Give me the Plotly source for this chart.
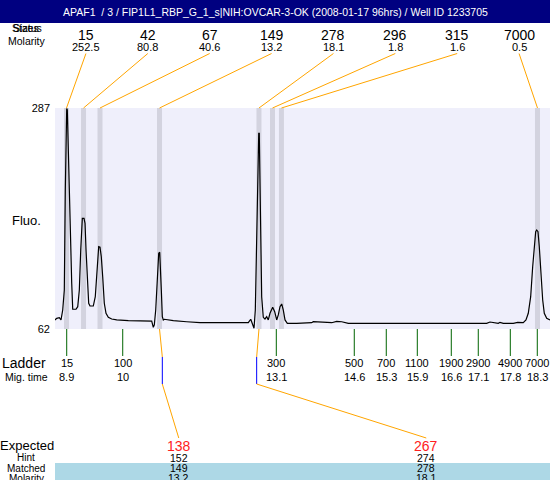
import plotly.graph_objects as go

TITLE = "APAF1  / 3 / FIP1L1_RBP_G_1_s|NIH:OVCAR-3-OK (2008-01-17 96hrs) / Well ID 1233705"

# electropherogram: migration time (s) vs fluorescence
mig_time = [8.666, 8.700, 8.752, 8.786, 8.820, 8.852, 8.872, 8.886, 8.900, 8.912,
            8.932, 8.952, 8.980, 9.000, 9.020, 9.046, 9.086, 9.120, 9.152, 9.180,
            9.212, 9.246, 9.266, 9.286, 9.312, 9.339, 9.365, 9.431, 9.471, 9.505,
            9.539, 9.565, 9.591, 9.619, 9.651, 9.685, 9.731, 9.799, 9.899, 10.131,
            10.364, 10.598, 10.630, 10.650, 10.678, 10.710, 10.738, 10.758, 10.770, 10.790,
            10.810, 10.830, 10.850, 10.930, 11.030, 11.297, 11.563, 11.896, 12.228, 12.528,
            12.576, 12.608, 12.642, 12.668, 12.696, 12.716, 12.736, 12.747, 12.761, 12.775,
            12.795, 12.827, 12.861, 12.895, 12.927, 12.961, 13.015, 13.055, 13.095, 13.127,
            13.161, 13.195, 13.227, 13.261, 13.307, 13.495, 13.794, 13.826, 14.060, 14.194,
            14.294, 14.394, 14.526, 15.558, 16.557, 17.290, 17.356, 17.422, 17.522, 17.556,
            17.622, 17.822, 17.909, 18.021, 18.075, 18.121, 18.169, 18.209, 18.241, 18.269,
            18.289, 18.315, 18.341, 18.375, 18.409, 18.441, 18.489, 18.555]
fluo = [71.2, 72.9, 73.5, 71.2, 81.3, 101.7, 203.5, 285.0, 286.5, 285.0,
        237.4, 196.7, 145.8, 108.5, 82.1, 82.1, 82.1, 84.7, 101.7, 142.4,
        174.7, 174.7, 169.6, 142.4, 108.5, 88.2, 85.4, 85.4, 94.9, 122.1,
        145.8, 145.2, 135.6, 115.2, 88.2, 78.0, 73.9, 72.2, 71.2, 70.5,
        70.1, 70.1, 63.7, 66.1, 81.3, 108.5, 139.1, 140.1, 128.9, 101.7,
        74.5, 71.2, 71.9, 71.2, 70.5, 69.4, 68.4, 68.4, 68.4, 68.4,
        71.9, 67.8, 62.7, 81.3, 169.6, 237.4, 261.2, 261.2, 203.5, 135.6,
        94.9, 73.9, 72.2, 74.5, 71.2, 78.0, 84.1, 79.6, 71.2, 76.3,
        84.7, 87.5, 81.3, 71.2, 67.8, 67.8, 68.4, 69.4, 68.8, 68.4,
        69.8, 69.4, 67.8, 67.8, 67.8, 67.8, 69.1, 68.4, 67.8, 68.8,
        67.8, 67.8, 68.8, 68.4, 71.2, 78.0, 94.9, 125.4, 145.8, 161.1,
        162.8, 161.1, 145.8, 115.2, 91.5, 78.0, 72.9, 71.2]

# called peaks
peak_time = [8.896, 9.236, 9.565, 10.754, 12.741, 13.011, 13.190, 18.305]
peak_size = ["15", "42", "67", "149", "278", "296", "315", "7000"]
peak_molarity = ["252.5", "80.8", "40.6", "13.2", "18.1", "1.8", "1.6", "0.5"]

# ladder
ladder_size = ["15", "100", "300", "500", "700", "1100", "1900", "2900", "4900", "7000"]
ladder_time = [8.900, 10.019, 13.087, 14.645, 15.284, 15.904, 16.583, 17.122, 17.762, 18.301]

# expected fragments
expected = ["138", "267"]
hint = ["152", "274"]
hint_time = [10.810, 12.695]
matched = ["149", "278"]
matched_molarity = ["13.2", "18.1"]
matched_time = [10.754, 12.741]

X_RANGE = [8.666, 18.555]
Y_RANGE = [62, 287]

# page geometry (pixels)
W, H = 550, 480
L, R, T, B = 55, 0, 108, 151
PW, PH = W - L - R, H - T - B
FONT = "Arial, Liberation Sans, sans-serif"
ORANGE = "#FFA500"


def px(x):
    return (x - L) / PW


def py(y):
    return (H - B - y) / PH


def t_at(frac):
    return X_RANGE[0] + frac * (X_RANGE[1] - X_RANGE[0])


fig = go.Figure(go.Scatter(x=mig_time, y=fluo, mode="lines",
                           line=dict(color="black", width=1.2), hoverinfo="skip"))

shapes = []
ann = []


def text(x, y, s, size=11, color="black", xref="paper"):
    ann.append(dict(x=x, y=y, xref=xref, yref="paper", text=s, showarrow=False,
                    xanchor="center", yanchor="middle",
                    font=dict(family=FONT, size=size, color=color)))


def line(x0, y0, x1, y1, color=ORANGE):
    shapes.append(dict(type="line", xref="x", yref="paper", x0=x0, y0=y0, x1=x1, y1=y1,
                       line=dict(color=color, width=1)))


# title bar
shapes.append(dict(type="rect", xref="paper", yref="paper", x0=px(0), x1=px(W),
                   y0=py(23), y1=py(0), fillcolor="#000080", line=dict(width=0), layer="below"))
text(px(W / 2), py(12), TITLE, size=10.5, color="white")

# peak bands + top labels
n = len(peak_time)
for i, t in enumerate(peak_time):
    shapes.append(dict(type="rect", xref="x", yref="paper", x0=t - 0.05, x1=t + 0.05,
                       y0=0, y1=1, fillcolor="#D3D3DF", line=dict(width=0), layer="below"))
    f = (i + 0.5) / n
    text(f, py(35), peak_size[i], size=14)
    text(f, py(47), peak_molarity[i], size=11)
    line(t_at(f), py(53.5), t, 1)

text(px(26), py(28), "Sizes", size=10.5)
text(px(27), py(28), "Status", size=10.5)
text(px(26.5), py(41), "Molarity", size=10.5)
text(px(26), py(220), "Fluo.", size=13)

# ladder
for s, t in zip(ladder_size, ladder_time):
    line(t, 0, t, py(356), color="#006400")
    text(t, py(363), s, xref="x")
    text(t, py(377), f"{round(t, 1):g}", xref="x")
text(px(24), py(363), "Ladder", size=14)
text(px(26), py(377), "Mig. time", size=10.5)

# expected table
shapes.append(dict(type="rect", xref="paper", yref="paper", x0=0, x1=1,
                   y0=py(480), y1=py(463), fillcolor="#ADD8E6", line=dict(width=0), layer="below"))
m = len(expected)
for j in range(m):
    f = (j + 0.5) / m
    line(matched_time[j], 0, hint_time[j], py(357))
    line(hint_time[j], py(357), hint_time[j], py(384), color="#0000FF")
    line(hint_time[j], py(384), t_at(f), py(438))
    text(f, py(445.5), expected[j], size=14, color="#FF2020")
    text(f, py(457.5), hint[j], size=10.5)
    text(f, py(468), matched[j], size=10.5)
    text(f, py(478), matched_molarity[j], size=10.5)
text(px(27), py(445.5), "Expected", size=13)
text(px(26), py(457.5), "Hint", size=10)
text(px(26), py(468), "Matched", size=10)
text(px(26), py(478), "Molarity", size=10)

fig.update_layout(
    width=W, height=H,
    margin=dict(l=L, r=R, t=T, b=B, pad=0),
    paper_bgcolor="white",
    plot_bgcolor="#EFEFFB",
    showlegend=False,
    shapes=shapes,
    annotations=ann,
    font=dict(family=FONT, size=11, color="black"),
    xaxis=dict(range=X_RANGE, visible=False, showgrid=False, zeroline=False),
    yaxis=dict(range=Y_RANGE, tickvals=Y_RANGE, ticks="", showgrid=False, zeroline=False,
               showline=False, tickfont=dict(size=11), ticklabelstandoff=4),
)

fig.write_html("out.html", config={"displayModeBar": False},
               post_script="document.body.style.margin='0';")
